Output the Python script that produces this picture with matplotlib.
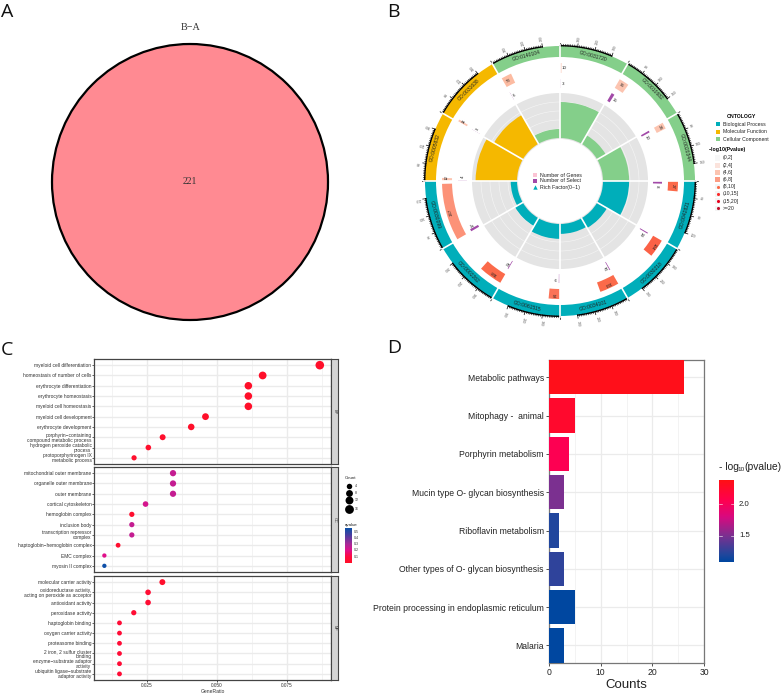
import numpy as np
import matplotlib as mpl
import matplotlib.pyplot as plt
from matplotlib.colors import LinearSegmentedColormap
from matplotlib.patches import Circle, Rectangle

mpl.use('Agg')
plt.rcParams['font.family'] = ['Liberation Sans', 'DejaVu Sans']

W, H = 784, 693

# ~~~~~~~~~~ A: venn ~~~~~~~~~~~#
venn_title = "B\u2212A"
venn_count = 221

# ~~~~~~~~~~ B: GO circle ~~~~~~~~~~~#
go_ids = ["GO:0031720", "GO:0010682", "GO:0020344", "GO:0042821", "GO:0030218", "GO:0034101",
          "GO:0061515", "GO:0002262", "GO:0030099", "GO:0005832", "GO:0031638", "GO:0140104"]
go_onto = ["CC", "CC", "CC", "BP", "BP", "BP", "BP", "BP", "BP", "MF", "MF", "CC"]
go_size = [400, 200, 200, 160, 400, 400, 400, 400, 280, 240, 240, 400]
go_genes = [10, 36, 24, 27, 124, 133, 74, 160, 267, 12, 11, 73]
go_select = [3, 15, 10, 8, 14, 12, 9, 12, 17, 4, 3, 6]
go_rich = [0.80, 0.22, 0.58, 0.58, 0.25, 0.22, 0.33, 0.20, 0.14, 0.92, 0.74, 0.20]
go_gene_col = ["#fcc9b8", "#fcc4b0", "#fcc4b0", "#fb6a4a", "#fb6146", "#fb6a4a",
               "#fb7358", "#fb6a4a", "#fc9278", "#fcc4b0", "#fcc4b0", "#fcbba1"]
onto_col = {"BP": "#00aeba", "MF": "#f5b800", "CC": "#84cf8a"}
onto_names = ["Biological Process", "Molecular Function", "Cellular Component"]
p_labels = ["(0,2]", "(2,4]", "(4,6]", "(6,8]", "(8,10]", "(10,15]", "(15,20]", ">=20"]
p_cols = ["#f7f7f7", "#fbe3dc", "#fcc4b0", "#fc9c84", "#fb6a4a", "#fb2a2a", "#e8001c", "#c0102a"]

# ~~~~~~~~~~ C: dot plot ~~~~~~~~~~~#
bp_terms = ["myeloid cell differentiation", "homeostasis of number of cells", "erythrocyte differentiation",
            "erythrocyte homeostasis", "myeloid cell homeostasis", "myeloid cell development",
            "erythrocyte development", "porphyrin\u2212containing\ncompound metabolic process",
            "hydrogen peroxide catabolic\nprocess", "protoporphyrinogen IX\nmetabolic process"]
bp_ratio = [0.0867, 0.0663, 0.0612, 0.0612, 0.0612, 0.0459, 0.0408, 0.0306, 0.0255, 0.0204]
bp_count = [17, 13, 12, 12, 12, 9, 8, 6, 5, 4]
bp_q = [0.01, 0.01, 0.01, 0.01, 0.01, 0.01, 0.01, 0.02, 0.02, 0.02]

cc_terms = ["mitochondrial outer membrane", "organelle outer membrane", "outer membrane",
            "cortical cytoskeleton", "hemoglobin complex", "inclusion body",
            "transcription repressor\ncomplex", "haptoglobin\u2212hemoglobin complex",
            "EMC complex", "myosin II complex"]
cc_ratio = [0.0343, 0.0343, 0.0343, 0.0245, 0.0196, 0.0196, 0.0196, 0.0147, 0.0098, 0.0098]
cc_count = [7, 7, 7, 5, 4, 4, 4, 3, 2, 2]
cc_q = [0.25, 0.25, 0.25, 0.22, 0.03, 0.25, 0.25, 0.03, 0.2, 0.55]

mf_terms = ["molecular carrier activity", "oxidoreductase activity,\nacting on peroxide as acceptor",
            "antioxidant activity", "peroxidase activity", "haptoglobin binding", "oxygen carrier activity",
            "proteasome binding", "2 iron, 2 sulfur cluster\nbinding", "enzyme\u2212substrate adaptor\nactivity",
            "ubiquitin ligase\u2212substrate\nadaptor activity"]
mf_ratio = [0.0305, 0.0254, 0.0254, 0.0203, 0.0152, 0.0152, 0.0152, 0.0152, 0.0152, 0.0152]
mf_count = [6, 5, 5, 4, 3, 3, 3, 3, 3, 3]
mf_q = [0.02, 0.05, 0.05, 0.05, 0.06, 0.06, 0.06, 0.06, 0.06, 0.06]

size_legend = [4, 8, 12, 16]
q_ticks = [0.5, 0.4, 0.3, 0.2, 0.1]

# ~~~~~~~~~~ D: KEGG bars ~~~~~~~~~~~#
kegg_terms = ["Metabolic pathways", "Mitophagy -  animal", "Porphyrin metabolism",
              "Mucin type O- glycan biosynthesis", "Riboflavin metabolism",
              "Other types of O- glycan biosynthesis", "Protein processing in endoplasmic reticulum", "Malaria"]
kegg_counts = [26, 5, 4, 3, 2, 3, 5, 3]
kegg_logp = [2.36, 2.25, 2.05, 1.5, 1.2, 1.25, 1.09, 1.09]


def axpx(left, top, right, bottom, **kw):
    # axes placed by pixel box of the reference
    return fig.add_axes([left / W, 1 - bottom / H, (right - left) / W, (bottom - top) / H], **kw)


def dotsize(c):
    d = 2.06 + 1.586 * np.sqrt(c)
    return (d * 72 / 100) ** 2


fig = plt.figure(figsize=(W / 100, H / 100), dpi=100)

# overlay for letters and legends, coordinates in pixels
ov = fig.add_axes([0, 0, 1, 1], zorder=10)
ov.set_xlim(0, W)
ov.set_ylim(H, 0)
ov.axis('off')
for letter, x, y in [("A", 1, 17), ("B", 387, 17), ("C", 1, 355), ("D", 387, 353)]:
    ov.text(x, y, letter, fontsize=14, family='Open Sans', va='baseline', color='#111111')

# ~~~~~~~~~~ A ~~~~~~~~~~~#
axA = axpx(50, 42, 330, 322)
axA.set_xlim(-1.0145, 1.0145)
axA.set_ylim(-1.0145, 1.0145)
axA.axis('off')
axA.add_patch(Circle((0, 0), 1, facecolor='#ff8a92', edgecolor='black', lw=1.6))
axA.text(0, 0, str(venn_count), ha='center', va='center', fontsize=7, family='Liberation Serif', color='#333333')
ov.text(190.3, 27, venn_title, ha='center', va='center', fontsize=7.3, family='Liberation Serif', color='#333333')

# ~~~~~~~~~~ B ~~~~~~~~~~~#
axB = axpx(410, 31, 710, 331, projection='polar')
axB.set_theta_zero_location('N')
axB.set_theta_direction(-1)
axB.set_rlim(0, 150)
axB.axis('off')
axB.patch.set_alpha(0)
hole, track = 43, 88
for i, gid in enumerate(go_ids):
    start = 30.0 * i
    col = onto_col[go_onto[i]]
    mid = np.radians(start + 15)
    # outer ring and id
    axB.bar(mid, 11, width=np.radians(30), bottom=124, color=col, lw=0)
    rot = -(start + 15)
    if 90 < start + 15 < 270:
        rot += 180
    axB.text(mid, 129.5, gid, fontsize=3.6, ha='center', va='center', rotation=rot,
             rotation_mode='anchor', color='#222222')
    # outer ticks up to the last labelled one
    step = go_size[i] / 4
    for v in np.arange(0, 3 * step + 1, step / 10):
        t = np.radians(start + v / go_size[i] * 30)
        major = abs(v / step - round(v / step)) < 1e-6
        axB.plot([t, t], [135, 138.4 if major else 136.8], color='black', lw=0.5 if major else 0.4)
        if major and v > 0:
            axB.text(t, 143.5, "%d" % v, fontsize=2.4, color='#555555', ha='center', va='center',
                     rotation=90 - np.degrees(t), rotation_mode='anchor')
    axB.plot(np.radians(np.linspace(start, start + 22.5, 20)), [135.3] * 20, color='black', lw=1.0)
    # genes
    span = go_genes[i] / go_size[i] * 30
    axB.bar(np.radians(start + span / 2), 10, width=np.radians(span), bottom=108, color=go_gene_col[i], lw=0)
    axB.text(np.radians(start + max(span / 2, 2)), 113, str(go_genes[i]), fontsize=3.2, ha='center', va='center',
             rotation=-(start + max(span / 2, 2)), rotation_mode='anchor', color='#222222')
    # selected
    span = go_select[i] / go_size[i] * 30
    axB.bar(np.radians(start + span / 2), 9, width=np.radians(span), bottom=93, color='#a24aa8', lw=0)
    axB.text(np.radians(start + span + 1.8), 97, str(go_select[i]), fontsize=3.2, ha='center', va='center',
             rotation=-(start + span + 1.8), rotation_mode='anchor', color='#222222')
    # grey track and rich factor
    axB.bar(mid, track - hole + 1, width=np.radians(30), bottom=hole - 1, color='#e4e4e4', lw=0)
    for r in [52, 61, 70, 79]:
        axB.plot(np.radians(np.linspace(start, start + 30, 30)), [r] * 30, color='#f6f6f6', lw=0.4)
    axB.bar(mid, go_rich[i] * (track - hole), width=np.radians(30), bottom=hole, color=col, lw=0, zorder=3)
    # white gap between the sectors
    axB.plot([np.radians(start)] * 2, [hole, 136], color='white', lw=1.2, zorder=4)

ov.text(741, 116, "ONTOLOGY", fontsize=3.7, fontweight='bold', ha='center', va='center')
for name, key, y in zip(onto_names, ["BP", "MF", "CC"], [124.3, 131.7, 139]):
    ov.add_patch(Rectangle((715.7, y - 2), 4, 4, color=onto_col[key], lw=0))
    ov.text(723, y, name, fontsize=3.7, va='center', color='#222222')
ov.text(709, 150, "\u2212log10(Pvalue)", fontsize=3.7, fontweight='bold', va='center')
for lab, col, y in zip(p_labels, p_cols, [158, 165.3, 172.3, 179.3, 186.7, 194, 201, 208.3]):
    ov.add_patch(Rectangle((715, y - 2.7), 5.4, 5.4, color='#f4f4f4', lw=0))
    if col in p_cols[:4]:
        ov.add_patch(Rectangle((715, y - 2.7), 5.4, 5.4, color=col, lw=0))
    else:
        ov.scatter([717.7], [y], s=5, color=col, lw=0)
    ov.text(723, y, lab, fontsize=3.7, va='center', color='#222222')

ov.scatter([535], [175.3], s=9, marker='s', color='#fbc4d4', lw=0)
ov.scatter([535], [181], s=9, marker='s', color='#a24aa8', lw=0)
ov.scatter([535], [187], s=10, marker='^', color='#00aeba', lw=0)
for lab, y in zip(["Number of Genes", "Number of Select", "Rich Factor(0~1)"], [175.3, 181, 187]):
    ov.text(539.7, y, lab, fontsize=3.8, va='center', color='#222222')

# ~~~~~~~~~~ C ~~~~~~~~~~~#
qmap = LinearSegmentedColormap.from_list(
    'q', [(0, '#ff1028'), (0.18, '#ff0a40'), (0.36, '#e0108a'), (0.55, '#a52a98'), (0.8, '#4a3ea0'), (1, '#0a50a8')])
qmax = 0.556
xlim_c = (0.0061, 0.0907)
facets = [("BP", bp_terms, bp_ratio, bp_count, bp_q, 359, 464),
          ("CC", cc_terms, cc_ratio, cc_count, cc_q, 467, 572),
          ("MF", mf_terms, mf_ratio, mf_count, mf_q, 576, 680)]
for name, terms, ratio, count, q, top, bottom in facets:
    ax = axpx(94, top, 331, bottom)
    ys = np.arange(len(terms), 0, -1)
    ax.set_xlim(*xlim_c)
    ax.set_ylim(0.4, 10.6)
    ax.set_axisbelow(True)
    ax.set_xticks([0.025, 0.05, 0.075])
    ax.set_xticks([0.0125, 0.0375, 0.0625, 0.0875], minor=True)
    ax.set_yticks(ys)
    ax.set_yticklabels(terms, fontsize=3.5, color='#333333', linespacing=0.95)
    ax.grid(True, which='major', color='#ebebeb', lw=1.0)
    ax.grid(True, which='minor', axis='x', color='#efefef', lw=0.5)
    ax.tick_params(axis='y', length=1.2, width=0.5, pad=0.6, color='#222222')
    ax.tick_params(axis='x', which='minor', length=0)
    ax.tick_params(axis='x', which='major', length=1.2 if name == "MF" else 0, width=0.5, pad=0.8,
                   labelbottom=(name == "MF"), labelsize=3.4, labelcolor='#333333')
    if name == "MF":
        ax.set_xticklabels(["0.025", "0.050", "0.075"])
        ax.set_xlabel("GeneRatio", fontsize=3.6, labelpad=0.6, color='#333333')
    for s in ax.spines.values():
        s.set_color('#444444')
        s.set_linewidth(0.9)
    ax.scatter(ratio, ys, s=[dotsize(c) for c in count], c=q, cmap=qmap, vmin=0, vmax=qmax, lw=0, zorder=3)
    strip = axpx(331, top, 338, bottom)
    strip.set_xticks([])
    strip.set_yticks([])
    strip.set_facecolor('#d4d4d4')
    for s in strip.spines.values():
        s.set_color('#444444')
        s.set_linewidth(0.8)
    strip.text(0.5, 0.5, name, transform=strip.transAxes, rotation=-90, fontsize=2.8, ha='center', va='center',
               color='#333333')

ov.text(344.5, 478, "Count", fontsize=3.2, va='center', color='#222222')
for c, y in zip(size_legend, [486, 493, 500, 509]):
    ov.scatter([348.7], [y], s=dotsize(c) * 1.1, color='black', lw=0)
    ov.text(355, y, str(c), fontsize=2.6, va='center', color='#333333')
ov.text(344.5, 524.7, "qvalue", fontsize=3.2, va='center', color='#222222')
cb = axpx(344.5, 528, 351, 563)
cb.imshow(np.linspace(qmax, 0, 100).reshape(-1, 1), cmap=qmap, vmin=0, vmax=qmax, aspect='auto',
          extent=[0, 1, 0, qmax])
cb.axis('off')
for v in q_ticks:
    y = 563 - v / qmax * 35
    ov.text(353.5, y, "%.1f" % v, fontsize=2.6, va='center', color='#333333')

# ~~~~~~~~~~ D ~~~~~~~~~~~#
pmap = LinearSegmentedColormap.from_list(
    'p', [(0, '#0047a0'), (0.1, '#25469c'), (0.32, '#7c3090'), (0.55, '#d80a80'), (0.75, '#ff0050'), (1, '#ff1015')])
pmin, pmax = 1.086, 2.387
axD = axpx(548.7, 360, 704.3, 662.7)
ys = np.arange(len(kegg_terms), 0, -1)
axD.barh(ys, kegg_counts, height=0.9, color=pmap((np.array(kegg_logp) - pmin) / (pmax - pmin)), zorder=3)
axD.set_xlim(0, 30)
axD.set_ylim(0.55, 8.45)
axD.set_axisbelow(True)
axD.set_xticks([0, 10, 20, 30])
axD.set_xticks([5, 15, 25], minor=True)
axD.set_yticks(ys)
axD.set_yticklabels(kegg_terms, fontsize=6.2, color='#222222')
axD.grid(True, which='major', color='#ebebeb', lw=0.9)
axD.grid(True, which='minor', axis='x', color='#efefef', lw=0.5)
axD.tick_params(axis='both', which='major', length=2, width=0.6, pad=1.5, color='#333333')
axD.tick_params(axis='x', which='minor', length=0)
axD.tick_params(axis='x', labelsize=6.2, labelcolor='#222222')
axD.set_xlabel("Counts", fontsize=9.5, labelpad=2, color='#222222')
for s in axD.spines.values():
    s.set_color('#777777')
    s.set_linewidth(0.9)

ov.text(719, 466.7, "- log", fontsize=7.4, va='center', color='#222222')
ov.text(737.8, 469.3, "10", fontsize=4.6, va='center', color='#222222')
ov.text(744, 466.7, "(pvalue)", fontsize=7.4, va='center', color='#222222')
cbD = axpx(719, 480, 733.7, 561.7)
cbD.imshow(np.linspace(pmax, pmin, 200).reshape(-1, 1), cmap=pmap, vmin=pmin, vmax=pmax, aspect='auto',
           extent=[0, 1, pmin, pmax])
cbD.set_xticks([])
cbD.set_yticks([])
for s in cbD.spines.values():
    s.set_visible(False)
for v in [2.0, 1.5]:
    cbD.plot([0, 0.2], [v, v], color='white', lw=0.4)
    cbD.plot([0.8, 1], [v, v], color='white', lw=0.4)
    ov.text(739, 561.7 - (v - pmin) / (pmax - pmin) * 81.7, "%.1f" % v, fontsize=5.6, va='center', color='#222222')
cbD.set_xlim(0, 1)

fig.savefig('out.png', dpi=100)
